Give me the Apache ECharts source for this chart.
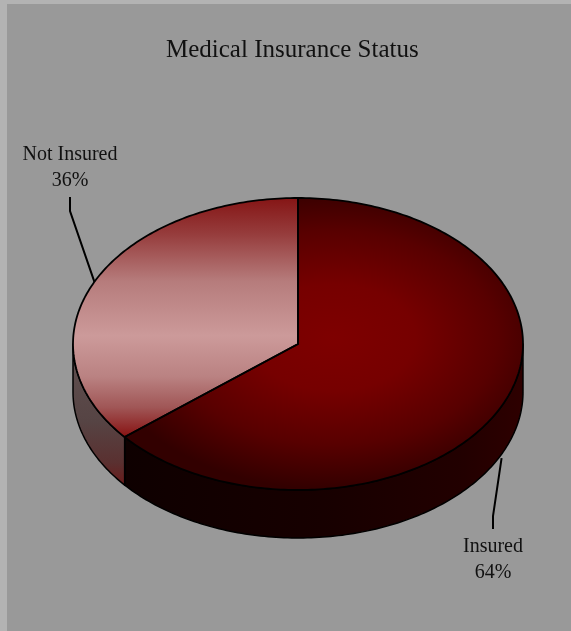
<!DOCTYPE html>
<html><head><meta charset="utf-8">
<script src="https://cdn.jsdelivr.net/npm/echarts@6/dist/echarts.min.js"></script>
<style>html,body{margin:0;padding:0;background:#999999;overflow:hidden}#chart{width:571px;height:631px}</style>
</head><body><div id="chart"></div>
<script>
// ---- data ----
const chartTitle = 'Medical Insurance Status';
const categories = ['Insured', 'Not Insured'];
const values = [64, 36];

// ---- layout / style (not data) ----
const PIE = { cx: 298, cy: 344, rx: 225, ry: 146, depth: 48, startAngle: -90 };
const labelCenters = [[493, 560], [70, 168]];
const FONT = '"Liberation Serif", "Times New Roman", serif';
const K = PIE.ry / PIE.rx;
const sliceStyles = [
  {
    top: { type: 'radial', x: 35, y: -10, r: 235, global: true,
      colorStops: [{offset:0,color:'#7e0000'},{offset:0.35,color:'#760000'},{offset:0.7,color:'#580000'},{offset:1,color:'#320000'}] },
    side: { type: 'linear', x: 123, y: 0, x2: 523, y2: 0, global: true,
      colorStops: [{offset:0,color:'#0e0000'},{offset:0.5,color:'#170000'},{offset:0.85,color:'#220000'},{offset:1,color:'#2e0000'}] }
  },
  {
    top: { type: 'linear', x: 0, y: (198 - 344) / K, x2: 0, y2: (436 - 344) / K, global: true,
      colorStops: [{offset:0,color:'#851515'},{offset:0.15,color:'#963c3c'},{offset:0.35,color:'#b67c7c'},{offset:0.58,color:'#cc9a9a'},{offset:0.75,color:'#ba8282'},{offset:0.88,color:'#a05656'},{offset:1,color:'#881414'}] },
    side: { type: 'linear', x: 0, y: 344, x2: 0, y2: 484, global: true,
      colorStops: [{offset:0,color:'#615151'},{offset:0.55,color:'#564444'},{offset:0.85,color:'#5a3030'},{offset:1,color:'#6a1c1c'}] }
  }
];

const total = values.reduce((a, b) => a + b, 0);
const rad = d => d * Math.PI / 180;

function arcPts(a, b, dy, local) {
  const pts = [];
  const n = Math.max(2, Math.ceil(Math.abs(b - a)));
  for (let k = 0; k <= n; k++) {
    const t = rad(a + (b - a) * k / n);
    if (local) pts.push([PIE.rx * Math.cos(t), PIE.rx * Math.sin(t)]);
    else pts.push([PIE.cx + PIE.rx * Math.cos(t), PIE.cy + PIE.ry * Math.sin(t) + dy]);
  }
  return pts;
}

function frontRanges(s, e) {
  const out = [];
  for (let k = -1; k <= 2; k++) {
    const lo = Math.max(s, k * 360), hi = Math.min(e, k * 360 + 180);
    if (hi > lo) out.push([lo, hi]);
  }
  return out;
}

function renderItem(params, api) {
  const i = params.dataIndex;
  let start = PIE.startAngle;
  for (let j = 0; j < i; j++) start += values[j] / total * 360;
  const span = api.value(0) / total * 360;
  const end = start + span;
  const st = sliceStyles[i];
  const children = [];

  // side walls (front only)
  frontRanges(start, end).forEach(([a, b]) => {
    const pts = arcPts(a, b, 0).concat(arcPts(b, a, PIE.depth));
    children.push({ type: 'polygon', z2: 1, shape: { points: pts },
      style: { fill: st.side, stroke: '#000', lineWidth: 1.5, lineJoin: 'round' } });
  });

  // top face fill (elliptical gradient via scaled group)
  children.push({ type: 'group', x: PIE.cx, y: PIE.cy, scaleY: K, children: [
    { type: 'polygon', z2: 2, shape: { points: [[0, 0]].concat(arcPts(start, end, 0, true)) },
      style: { fill: st.top, stroke: null } }
  ]});
  // top face outline
  children.push({ type: 'polygon', z2: 3, shape: { points: [[PIE.cx, PIE.cy]].concat(arcPts(start, end, 0)) },
    style: { fill: null, stroke: '#000', lineWidth: 1.8, lineJoin: 'round' } });

  // label + leader
  const mid = rad(start + span / 2);
  let ax = PIE.cx + PIE.rx * Math.cos(mid), ay = PIE.cy + PIE.ry * Math.sin(mid);
  if (Math.sin(mid) > 0) ay += PIE.depth + 4;
  const [lx, ly] = labelCenters[i];
  const pct = Math.round(api.value(0) / total * 100) + '%';
  const half = 26;
  let p1, p2;
  if (ay > ly) { p1 = [lx, ly + half + 3]; p2 = [lx, ly + half + 17]; }
  else { p1 = [lx, ly - half - 5]; p2 = [lx, ly - half - 18]; }
  children.push({ type: 'polyline', z2: 4, shape: { points: [p1, p2, [ax, ay]] },
    style: { stroke: '#000', lineWidth: 2, fill: null } });
  children.push({ type: 'text', z2: 5, style: {
    text: categories[i] + '\n' + pct, x: lx, y: ly, align: 'center', verticalAlign: 'middle',
    font: '20px ' + FONT, lineHeight: 26, fill: '#111' } });

  return { type: 'group', children };
}

const chart = echarts.init(document.getElementById('chart'), null, { renderer: 'canvas' });
chart.setOption({
  animation: false,
  backgroundColor: '#999999',
  title: { text: chartTitle, left: 161, top: 33,
    textStyle: { fontFamily: FONT, fontSize: 25, fontWeight: 'normal', color: '#111' } },
  graphic: [
    { type: 'rect', left: 0, top: 0, shape: { width: 7, height: 631 }, style: { fill: '#b3b3b3' }, z: -1 },
    { type: 'rect', left: 0, top: 0, shape: { width: 571, height: 4 }, style: { fill: '#b3b3b3' }, z: -1 }
  ],
  series: [{
    type: 'custom',
    coordinateSystem: 'none',
    renderItem,
    data: values.map((v, i) => ({ name: categories[i], value: v }))
  }]
});
</script>
</body></html>
